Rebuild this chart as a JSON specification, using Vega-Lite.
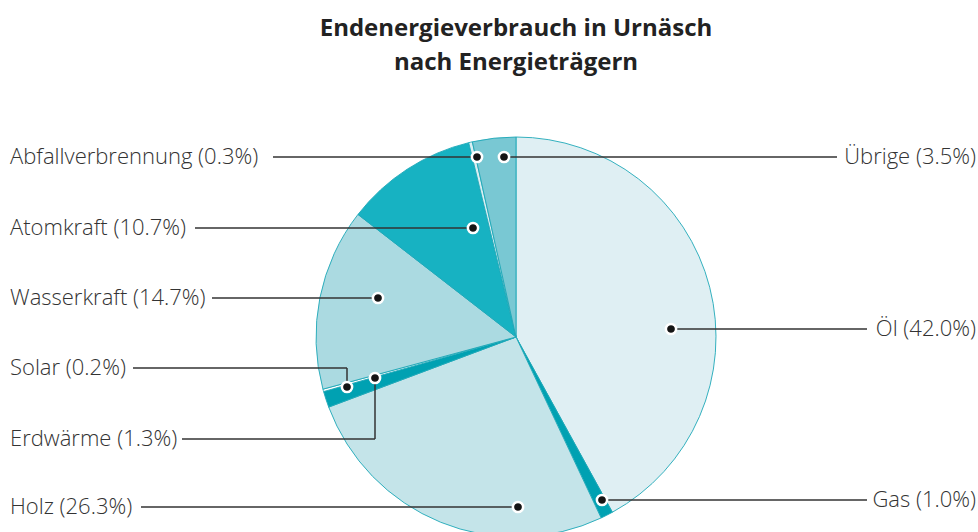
{
  "$schema": "https://vega.github.io/schema/vega-lite/v6.json",
  "width": 978,
  "height": 442,
  "autosize": {"type": "none"},
  "padding": {"left": 0, "right": 0, "top": 90, "bottom": 0},
  "background": "white",
  "config": {"view": {"stroke": null}},
  "title": {
    "text": ["Endenergieverbrauch in Urnäsch", "nach Energieträgern"],
    "font": "Open Sans",
    "fontSize": 24,
    "fontWeight": "bold",
    "color": "#222222",
    "anchor": "middle",
    "dx": 27,
    "lineHeight": 34,
    "offset": 15
  },
  "data": {
    "values": [
      {"name": "Öl", "value": 42.0, "label": "Öl (42.0%)", "side": "right", "dotX": 0.775, "dotY": 0.04, "labelY": 0.04, "lineX": 1.755},
      {"name": "Gas", "value": 1.0, "label": "Gas (1.0%)", "side": "right", "dotX": 0.43, "dotY": -0.815, "labelY": -0.815, "lineX": 1.755},
      {"name": "Holz", "value": 26.3, "label": "Holz (26.3%)", "side": "left", "dotX": 0.01, "dotY": -0.85, "labelY": -0.85, "lineX": -1.875},
      {"name": "Erdwärme", "value": 1.3, "label": "Erdwärme (1.3%)", "side": "left", "dotX": -0.705, "dotY": -0.205, "labelY": -0.51, "lineX": -1.67},
      {"name": "Solar", "value": 0.2, "label": "Solar (0.2%)", "side": "left", "dotX": -0.845, "dotY": -0.25, "labelY": -0.155, "lineX": -1.915},
      {"name": "Wasserkraft", "value": 14.7, "label": "Wasserkraft (14.7%)", "side": "left", "dotX": -0.69, "dotY": 0.195, "labelY": 0.195, "lineX": -1.52},
      {"name": "Atomkraft", "value": 10.7, "label": "Atomkraft (10.7%)", "side": "left", "dotX": -0.215, "dotY": 0.545, "labelY": 0.545, "lineX": -1.605},
      {"name": "Abfallverbrennung", "value": 0.3, "label": "Abfallverbrennung (0.3%)", "side": "left", "dotX": -0.195, "dotY": 0.9, "labelY": 0.9, "lineX": -1.215},
      {"name": "Übrige", "value": 3.5, "label": "Übrige (3.5%)", "side": "right", "dotX": -0.06, "dotY": 0.9, "labelY": 0.9, "lineX": 1.605}
    ]
  },
  "transform": [{"window": [{"op": "row_number", "as": "rank"}]}],
  "resolve": {"scale": {"x": "shared", "y": "shared"}},
  "layer": [
    {
      "mark": {"type": "arc", "radius": 200, "stroke": "#1ea8b8", "strokeWidth": 0.9},
      "encoding": {
        "theta": {"field": "value", "type": "quantitative", "stack": true},
        "order": {"field": "rank", "type": "quantitative"},
        "x": {"datum": 0, "type": "quantitative", "scale": {"domain": [-2.58, 2.31], "nice": false, "zero": false}, "axis": null},
        "y": {"datum": 0, "type": "quantitative", "scale": {"domain": [-0.975, 1.235], "nice": false, "zero": false}, "axis": null},
        "color": {
          "field": "name",
          "type": "nominal",
          "legend": null,
          "scale": {
            "domain": ["Öl", "Gas", "Holz", "Erdwärme", "Solar", "Wasserkraft", "Atomkraft", "Abfallverbrennung", "Übrige"],
            "range": ["#dfeff3", "#00a1b2", "#c4e4e9", "#00a1b2", "#ffffff", "#abdae1", "#17b2c2", "#d9eef2", "#79c8d3"]
          }
        }
      }
    },
    {
      "mark": {"type": "rule", "color": "#333333", "strokeWidth": 1.5},
      "encoding": {
        "x": {"field": "lineX", "type": "quantitative"},
        "x2": {"field": "dotX"},
        "y": {"field": "labelY", "type": "quantitative"}
      }
    },
    {
      "transform": [{"filter": "datum.dotY != datum.labelY"}],
      "mark": {"type": "rule", "color": "#333333", "strokeWidth": 1.5},
      "encoding": {
        "x": {"field": "dotX", "type": "quantitative"},
        "y": {"field": "labelY", "type": "quantitative"},
        "y2": {"field": "dotY"}
      }
    },
    {
      "mark": {"type": "point", "filled": true, "color": "#151515", "stroke": "white", "strokeWidth": 2.5, "size": 105, "strokeOpacity": 1, "opacity": 1},
      "encoding": {
        "x": {"field": "dotX", "type": "quantitative"},
        "y": {"field": "dotY", "type": "quantitative"}
      }
    },
    {
      "transform": [{"filter": "datum.side == 'left'"}],
      "mark": {"type": "text", "align": "left", "baseline": "middle", "font": "Open Sans", "fontSize": 22, "fontWeight": 300, "color": "#333333"},
      "encoding": {
        "x": {"datum": -2.53, "type": "quantitative"},
        "y": {"field": "labelY", "type": "quantitative"},
        "text": {"field": "label"}
      }
    },
    {
      "transform": [{"filter": "datum.side == 'right'"}],
      "mark": {"type": "text", "align": "right", "baseline": "middle", "font": "Open Sans", "fontSize": 22, "fontWeight": 300, "color": "#333333"},
      "encoding": {
        "x": {"datum": 2.3, "type": "quantitative"},
        "y": {"field": "labelY", "type": "quantitative"},
        "text": {"field": "label"}
      }
    }
  ]
}
